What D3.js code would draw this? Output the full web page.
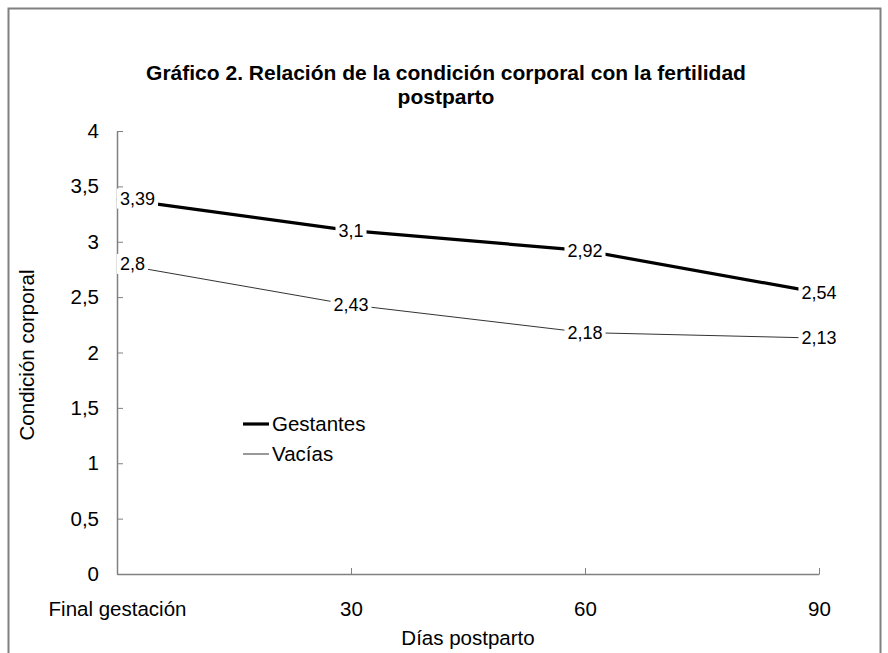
<!DOCTYPE html>
<html>
<head>
<meta charset="utf-8">
<script src="https://cdn.jsdelivr.net/npm/d3@7"></script>
<style>
  body { margin: 0; background: #fff; }
  text { font-family: "Liberation Sans", Arial, sans-serif; fill: #000; }
</style>
</head>
<body>
<div id="chart"></div>
<script>
const categories = ["Final gestación", "30", "60", "90"];
const gestantes = [3.39, 3.1, 2.92, 2.54];
const vacias = [2.8, 2.43, 2.18, 2.13];
const yTicks = [0, 0.5, 1, 1.5, 2, 2.5, 3, 3.5, 4];
const seriesNames = ["Gestantes", "Vacías"];

const W = 888, H = 653;
const plotLeft = 117, plotRight = 819, plotTop = 131, plotBottom = 574;
const comma = v => String(v).replace(".", ",");

const svg = d3.select("#chart").append("svg")
  .attr("width", W).attr("height", H);

svg.append("rect")
  .attr("x", 8.5).attr("y", 8.5)
  .attr("width", 872).attr("height", 660)
  .attr("fill", "none").attr("stroke", "#808080").attr("stroke-width", 2);

svg.append("text")
  .attr("x", 446).attr("y", 80)
  .attr("text-anchor", "middle")
  .style("font-size", "21px").style("font-weight", "bold")
  .text("Gráfico 2. Relación de la condición corporal con la fertilidad");
svg.append("text")
  .attr("x", 446).attr("y", 104)
  .attr("text-anchor", "middle")
  .style("font-size", "21px").style("font-weight", "bold")
  .text("postparto");

const x = d3.scalePoint().domain(categories).range([plotLeft, plotRight]);
const y = d3.scaleLinear().domain([0, 4]).range([plotBottom, plotTop]);

const yAxis = svg.append("g")
  .attr("transform", "translate(" + plotLeft + ",0)")
  .call(d3.axisLeft(y).tickValues(yTicks).tickFormat(comma)
    .tickSizeInner(-6).tickSizeOuter(0).tickPadding(18));

const xAxis = svg.append("g")
  .attr("transform", "translate(0," + plotBottom + ")")
  .call(d3.axisBottom(x).tickSizeInner(-6).tickSizeOuter(0).tickPadding(27));

[yAxis, xAxis].forEach(g => {
  g.select(".domain").attr("stroke", "#808080").attr("stroke-width", 1.5);
  g.selectAll(".tick line").attr("stroke", "#808080");
  g.selectAll(".tick text").style("font-size", "20.5px").attr("fill", "#000")
    .style("font-family", "'Liberation Sans', Arial, sans-serif");
});

svg.append("text")
  .attr("transform", "translate(34,355) rotate(-90)")
  .attr("text-anchor", "middle")
  .style("font-size", "20.5px")
  .text("Condición corporal");

svg.append("text")
  .attr("x", (plotLeft + plotRight) / 2).attr("y", 645)
  .attr("text-anchor", "middle")
  .style("font-size", "20.5px")
  .text("Días postparto");

const line = d3.line()
  .x((d, i) => x(categories[i]))
  .y(d => y(d));

const series = [
  { name: seriesNames[0], values: gestantes, color: "#000", width: 3.2 },
  { name: seriesNames[1], values: vacias, color: "#333", width: 1 }
];

series.forEach(s => {
  svg.append("path")
    .datum(s.values)
    .attr("d", line)
    .attr("fill", "none")
    .attr("stroke", s.color)
    .attr("stroke-width", s.width);
});

// data labels with white background, kept inside plot area
series.forEach(s => {
  s.values.forEach((v, i) => {
    const g = svg.append("g");
    const t = g.append("text")
      .attr("text-anchor", "middle")
      .attr("dy", "0.35em")
      .style("font-size", "18px")
      .text(comma(v));
    const w = t.node().getComputedTextLength();
    let cx = x(categories[i]);
    cx = Math.max(cx, plotLeft + w / 2 + 3);
    const cy = y(v);
    t.attr("x", cx).attr("y", cy);
    g.insert("rect", "text")
      .attr("x", cx - w / 2 - 3).attr("y", cy - 10)
      .attr("width", w + 6).attr("height", 20)
      .attr("fill", "#fff");
  });
});

// legend
const legend = svg.append("g").attr("transform", "translate(243,424)");
series.forEach((s, i) => {
  const ly = i * 30;
  legend.append("line")
    .attr("x1", 0).attr("x2", 26).attr("y1", ly).attr("y2", ly)
    .attr("stroke", s.color).attr("stroke-width", s.width);
  legend.append("text")
    .attr("x", 29).attr("y", ly).attr("dy", "0.36em")
    .style("font-size", "20.5px")
    .text(s.name);
});
</script>
</body>
</html>
